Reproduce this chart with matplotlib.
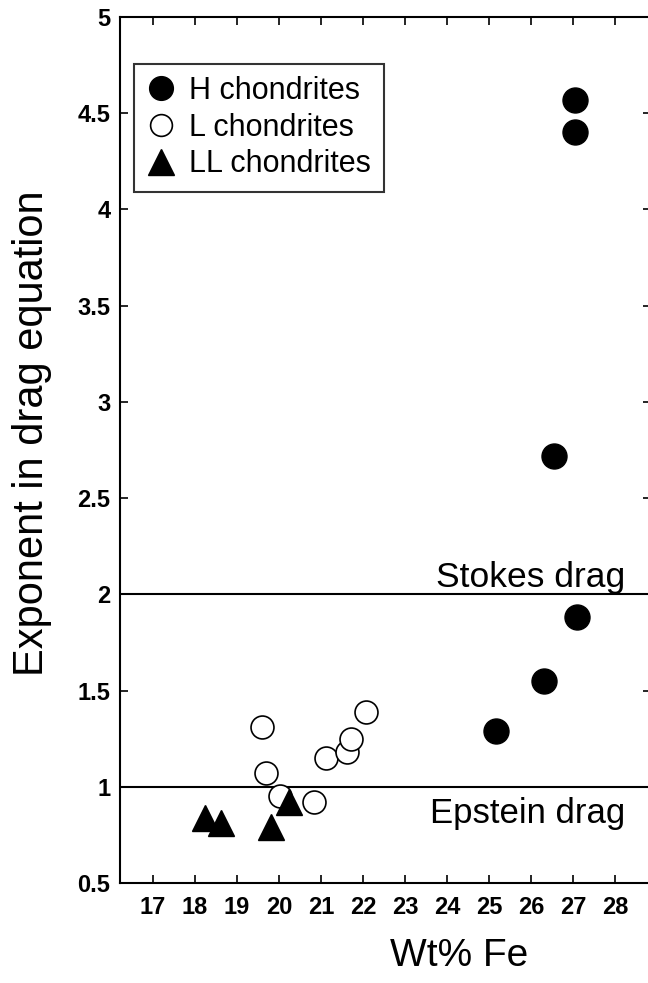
"""Exponent in drag equation versus Fe content for chondrites."""
import matplotlib
matplotlib.use('Agg')
import matplotlib.pyplot as plt

plt.rcParams['font.family'] = ['Liberation Sans', 'DejaVu Sans']

# data
h_fe = [27.05, 27.05, 26.55, 27.09, 26.31, 25.16]
h_exp = [4.57, 4.40, 2.72, 1.88, 1.55, 1.29]

l_fe = [19.60, 19.68, 20.02, 20.83, 21.11, 21.61, 21.71, 22.07]
l_exp = [1.31, 1.07, 0.95, 0.92, 1.15, 1.18, 1.25, 1.39]

ll_fe = [18.24, 18.62, 19.81, 20.24]
ll_exp = [0.84, 0.81, 0.79, 0.92]

x_ticks = list(range(17, 29))
y_ticks = [0.5, 1, 1.5, 2, 2.5, 3, 3.5, 4, 4.5, 5]
y_tick_labels = ['0.5', '1', '1.5', '2', '2.5', '3', '3.5', '4', '4.5', '5']

stokes = 2.0
epstein = 1.0

fig = plt.figure(figsize=(6.48, 9.83), dpi=100)
ax = fig.add_axes([0.1852, 0.1017, 0.8194, 0.881])

ax.axhline(stokes, color='black', lw=1.5, zorder=1)
ax.axhline(epstein, color='black', lw=1.5, zorder=1)

ax.plot(h_fe, h_exp, 'o', color='black', ms=18, label='H chondrites', zorder=3)
ax.plot(l_fe, l_exp, 'o', mfc='white', mec='black', mew=1.2, ms=16.5,
        label='L chondrites', zorder=3)
ax.plot(ll_fe, ll_exp, '^', color='black', ms=19, label='LL chondrites', zorder=4)

ax.text(28.24, 2.0, 'Stokes drag', ha='right', va='bottom', fontsize=25.5)
ax.text(28.24, 0.947, 'Epstein drag', ha='right', va='top', fontsize=25)

ax.set_xlim(16.214, 28.857)
ax.set_ylim(0.5, 5)
ax.set_xticks(x_ticks)
ax.set_yticks(y_ticks)
ax.set_yticklabels(y_tick_labels)
ax.tick_params(direction='in', length=6, width=1.2, top=True, right=True,
               labelsize=17)
ax.tick_params(axis='x', pad=9)
ax.tick_params(axis='y', pad=7)
for lbl in ax.get_xticklabels() + ax.get_yticklabels():
    lbl.set_fontweight('bold')
for sp in ax.spines.values():
    sp.set_linewidth(1.5)

ax.set_xlabel('Wt% Fe', fontsize=28)
ax.xaxis.set_label_coords(0.638, -0.064)
ax.set_ylabel('Exponent in drag equation', fontsize=30)
ax.yaxis.set_label_coords(-0.128, 0.52)

leg = ax.legend(loc='upper left', bbox_to_anchor=(0.026, 0.946), borderaxespad=0,
                fontsize=22, frameon=True, fancybox=False, handletextpad=0.42,
                handlelength=1.0, labelspacing=0.22, borderpad=0.4, markerscale=0.95)
leg.get_frame().set_edgecolor('black')
leg.get_frame().set_linewidth(1.5)

fig.savefig('out.png', dpi=100)
